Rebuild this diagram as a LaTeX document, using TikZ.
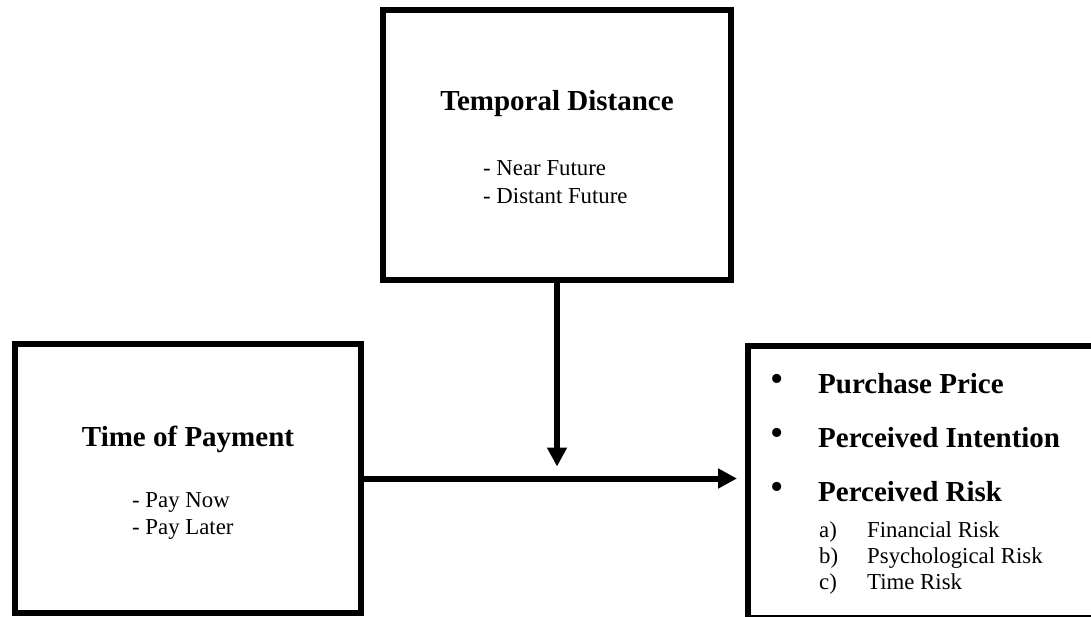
\documentclass[tikz,border=0pt]{standalone}
\usepackage{fontspec}
\setmainfont{Liberation Serif}
\usetikzlibrary{arrows.meta}

\tikzset{
  box/.style={draw, line width=6pt, inner sep=0pt},
  heading/.style={font=\fontsize{29}{34}\selectfont\bfseries, inner sep=0pt},
  item/.style={font=\fontsize{22.8}{27}\selectfont, inner sep=0pt},
  dot/.style={font=\fontsize{38}{40}\selectfont, inner sep=0pt},
  link/.style={line width=6pt, -{Triangle[length=19pt,width=19pt]}},
}

\begin{document}
\begin{tikzpicture}[x=1pt,y=-1pt]
\useasboundingbox (0,0) rectangle (1091,616);
\clip (0,0) rectangle (1091,616);

% the three boxes
\node[box, minimum width=348pt, minimum height=270pt] (temporal) at (557,145) {};
\node[box, minimum width=346.5pt, minimum height=269pt] (payment) at (187.75,478.5) {};
\node[box, minimum width=352pt, minimum height=272pt] (outcome) at (924,482) {};

% moderator
\node[heading, anchor=base] (tdhead) at (557,110) {Temporal Distance};
\node[item, anchor=base west] (tdnear) at (483,175) {- Near Future};
\node[item, anchor=base west] (tdfar) at (483,203) {- Distant Future};

% independent variable
\node[heading, anchor=base] (tphead) at (188,446) {Time of Payment};
\node[item, anchor=base west] (tpnow) at (132,507) {- Pay Now};
\node[item, anchor=base west] (tplater) at (132,534) {- Pay Later};

% dependent variables
\foreach \y/\name/\txt in {393/price/Purchase Price, 447/intent/Perceived Intention, 501/risk/Perceived Risk}{
  \node[dot] (dot\name) at (777,\y-10) {\textbullet};
  \node[heading, anchor=base west] (\name) at (818,\y) {\txt};
}
\foreach \y/\lab/\txt in {537/a/Financial Risk, 563/b/Psychological Risk, 589/c/Time Risk}{
  \node[item, anchor=base west] (num\lab) at (819,\y) {\lab)};
  \node[item, anchor=base west] (sub\lab) at (867,\y) {\txt};
}

% arrows
\coordinate (meet) at (temporal.south |- payment.east);
\draw[link, shorten >=8pt] (payment.east) -- (payment.east -| outcome.west);
\draw[link, shorten >=12pt] (temporal.south) -- (meet);
\end{tikzpicture}
\end{document}
